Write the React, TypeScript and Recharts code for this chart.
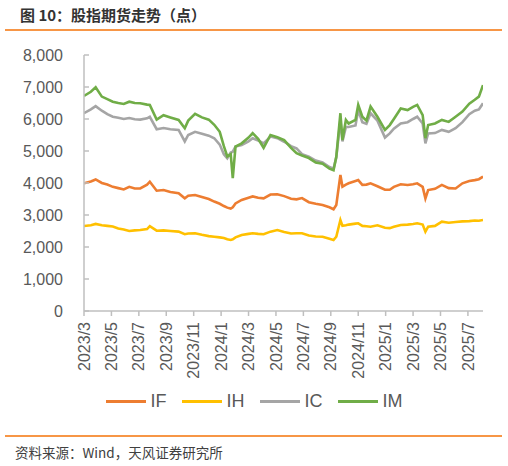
import React from 'react';
import { LineChart, Line, XAxis, YAxis } from 'recharts';

// month offset from 2023/3/1
const monthOffset = [
  0, 0.5, 0.85, 1.3, 1.7, 2.1, 2.5, 2.9, 3.3, 3.7, 4.1, 4.6, 4.8, 5.3, 5.8, 6.3, 6.9, 7.35, 7.6,
  8.1, 8.6, 9.1, 9.5, 9.9, 10.2, 10.45, 10.7, 10.85, 11.05, 11.5, 12.0, 12.3, 12.7, 13.1, 13.6,
  14.1, 14.6, 15.1, 15.5, 15.9, 16.4, 16.9, 17.4, 17.9, 18.2, 18.4, 18.7, 18.85, 19.1, 19.3, 19.8,
  20.0, 20.3, 20.6, 20.9, 21.4, 21.95, 22.3, 22.6, 23.1, 23.6, 24.0, 24.3, 24.7, 24.9, 25.1, 25.6,
  26.1, 26.6, 27.1, 27.6, 28.1, 28.5, 28.8, 29.1,
];

const IF = [
  3990, 4050, 4110, 4000, 3950, 3880, 3840, 3800, 3880, 3830, 3830, 3950, 4040, 3760, 3780, 3720, 3680, 3520, 3600,
  3625, 3560, 3500, 3420, 3350, 3280, 3230, 3200, 3240, 3360, 3470, 3540, 3580, 3540, 3520, 3640,
  3650, 3590, 3510, 3490, 3530, 3400, 3350, 3310, 3240, 3180, 3310, 4250, 3885, 3950, 3990, 4060,
  4090, 3940, 3950, 3990, 3900, 3790, 3790, 3880, 3960, 3940, 3960, 3990, 3880, 3520, 3780, 3820,
  3940, 3840, 3830, 3990, 4060, 4090, 4120, 4200,
];

const IH = [
  2655, 2680, 2720, 2680, 2660, 2640, 2580, 2550, 2500, 2520, 2530, 2560, 2650, 2510, 2520, 2500, 2480, 2400, 2420,
  2430, 2380, 2340, 2320, 2300, 2280, 2240, 2220, 2240, 2300, 2375, 2410, 2430, 2410, 2400, 2480,
  2530, 2470, 2420, 2430, 2430, 2360, 2330, 2320, 2260, 2220, 2320, 2845, 2660, 2680, 2700, 2730,
  2740, 2660, 2650, 2635, 2680, 2600, 2590, 2630, 2690, 2700, 2720, 2740, 2700, 2480, 2635, 2660,
  2790, 2760, 2780, 2800, 2810, 2830, 2820, 2845,
];

const IC = [
  6180, 6300, 6400, 6260, 6150, 6070, 6040, 6000, 6030, 5990, 5980, 6020, 6070, 5680, 5720, 5680, 5660, 5300, 5500,
  5600, 5540, 5480, 5400, 5200, 4900, 4770, 4950, 4980, 5140, 5190, 5300, 5400, 5330, 5240, 5450,
  5400, 5290, 5150, 5080, 4900, 4820, 4700, 4640, 4500, 4450, 4800, 5970, 5300, 5750, 5750, 5800,
  6280, 5900, 5850, 6180, 5950, 5420, 5550, 5700, 5860, 5900, 6000, 6070, 5860, 5240, 5550, 5560,
  5660, 5600, 5710, 5900, 6150, 6260, 6300, 6490,
];

const IM = [
  6720, 6850, 6990, 6700, 6620, 6540, 6500, 6470, 6540, 6500, 6490, 6450, 6440, 5980, 6120, 6050, 5970, 5710, 5950,
  6160, 6050, 5980, 5820, 5600, 5150, 4830, 4900, 4150, 5140, 5240, 5420, 5560, 5380, 5100, 5500,
  5430, 5340, 5100, 4930, 4860, 4780, 4640, 4600, 4450, 4400, 4820, 6180, 5340, 5970, 5860, 5970,
  6440, 6070, 5950, 6390, 6070, 5660, 5810, 6000, 6330, 6280, 6380, 6440, 6120, 5400, 5810, 5860,
  5970, 5910, 6070, 6230, 6480, 6600, 6700, 7060,
];

const tickMonths = [0, 2, 4, 6, 8, 10, 12, 14, 16, 18, 20, 22, 24, 26, 28];
const tickLabels = [
  '2023/3', '2023/5', '2023/7', '2023/9', '2023/11', '2024/1', '2024/3', '2024/5',
  '2024/7', '2024/9', '2024/11', '2025/1', '2025/3', '2025/5', '2025/7',
];
const yTicks = [0, 1000, 2000, 3000, 4000, 5000, 6000, 7000, 8000];

const seriesNames = ['IF', 'IH', 'IC', 'IM'];
const seriesValues = [IF, IH, IC, IM];
const seriesColors = ['#ED7D31', '#FFC000', '#A5A5A5', '#70AD47'];

const data = monthOffset.map((m, i) => {
  const row: Record<string, number> = { m };
  seriesNames.forEach((n, k) => {
    row[n] = seriesValues[k][i];
  });
  return row;
});

const FONT = 'Arial, "Liberation Sans", "Noto Sans CJK SC", sans-serif';
const CJK = '"Noto Sans CJK SC", "Microsoft YaHei", sans-serif';

const XTick = (props: any) => {
  const { x, y, payload } = props;
  const idx = tickMonths.indexOf(payload.value);
  const label = idx >= 0 ? tickLabels[idx] : '';
  return (
    <text
      x={x}
      y={y}
      transform={`rotate(-90 ${x} ${y})`}
      textAnchor="end"
      dy="0.35em"
      fill="#595959"
      fontSize={16}
      fontFamily={FONT}
    >
      {label}
    </text>
  );
};

export default function App() {
  return (
    <div
      style={{
        position: 'absolute',
        left: 0,
        top: 0,
        width: 508,
        height: 466,
        background: '#fff',
        overflow: 'hidden',
      }}
    >
      <div
        style={{
          position: 'absolute',
          left: 20,
          top: 4,
          fontFamily: CJK,
          fontWeight: 700,
          fontSize: 15,
          color: '#333',
          lineHeight: '22px',
          whiteSpace: 'nowrap',
        }}
      >
        图 10：股指期货走势（点）
      </div>
      <div style={{ position: 'absolute', left: 5, top: 28.5, width: 497, height: 2, background: '#F79646' }} />

      <div style={{ position: 'absolute', left: 0, top: 0 }}>
        <LineChart
          width={508}
          height={392}
          data={data}
          margin={{ top: 55, right: 25, left: 0, bottom: 0 }}
        >
          <XAxis
            dataKey="m"
            type="number"
            domain={[0, 29.1]}
            ticks={tickMonths}
            interval={0}
            height={81}
            tick={<XTick />}
            tickSize={5}
            tickMargin={6}
            axisLine={{ stroke: '#BFBFBF', strokeWidth: 1.5 }}
            tickLine={{ stroke: '#BFBFBF', strokeWidth: 1.5 }}
            allowDataOverflow
          />
          <YAxis
            width={84}
            domain={[0, 8000]}
            ticks={yTicks}
            interval={0}
            tickSize={-5}
            tickMargin={26}
            tickFormatter={(v: number) => v.toLocaleString('en-US')}
            tick={{ fill: '#595959', fontSize: 16, fontFamily: FONT }}
            axisLine={{ stroke: '#BFBFBF', strokeWidth: 1.5 }}
            tickLine={{ stroke: '#BFBFBF', strokeWidth: 1.5 }}
          />
          {seriesNames.map((n, k) => (
            <Line
              key={n}
              dataKey={n}
              stroke={seriesColors[k]}
              strokeWidth={2.6}
              dot={false}
              type="linear"
              isAnimationActive={false}
            />
          ))}
        </LineChart>
      </div>

      <div
        style={{
          position: 'absolute',
          left: 0,
          top: 389,
          width: 508,
          height: 24,
          display: 'flex',
          justifyContent: 'center',
          alignItems: 'center',
          gap: 15,
          fontFamily: FONT,
          fontSize: 18,
          color: '#595959',
        }}
      >
        {seriesNames.map((n, k) => (
          <div key={n} style={{ display: 'flex', alignItems: 'center', gap: 5 }}>
            <div style={{ width: 40, height: 3, background: seriesColors[k] }} />
            <span>{n}</span>
          </div>
        ))}
      </div>

      <div style={{ position: 'absolute', left: 5, top: 435, width: 497, height: 2, background: '#F79646' }} />
      <div
        style={{
          position: 'absolute',
          left: 15,
          top: 442,
          fontFamily: CJK,
          fontSize: 13.5,
          color: '#404040',
          lineHeight: '20px',
          whiteSpace: 'nowrap',
        }}
      >
        资料来源：Wind，天风证券研究所
      </div>
    </div>
  );
}
